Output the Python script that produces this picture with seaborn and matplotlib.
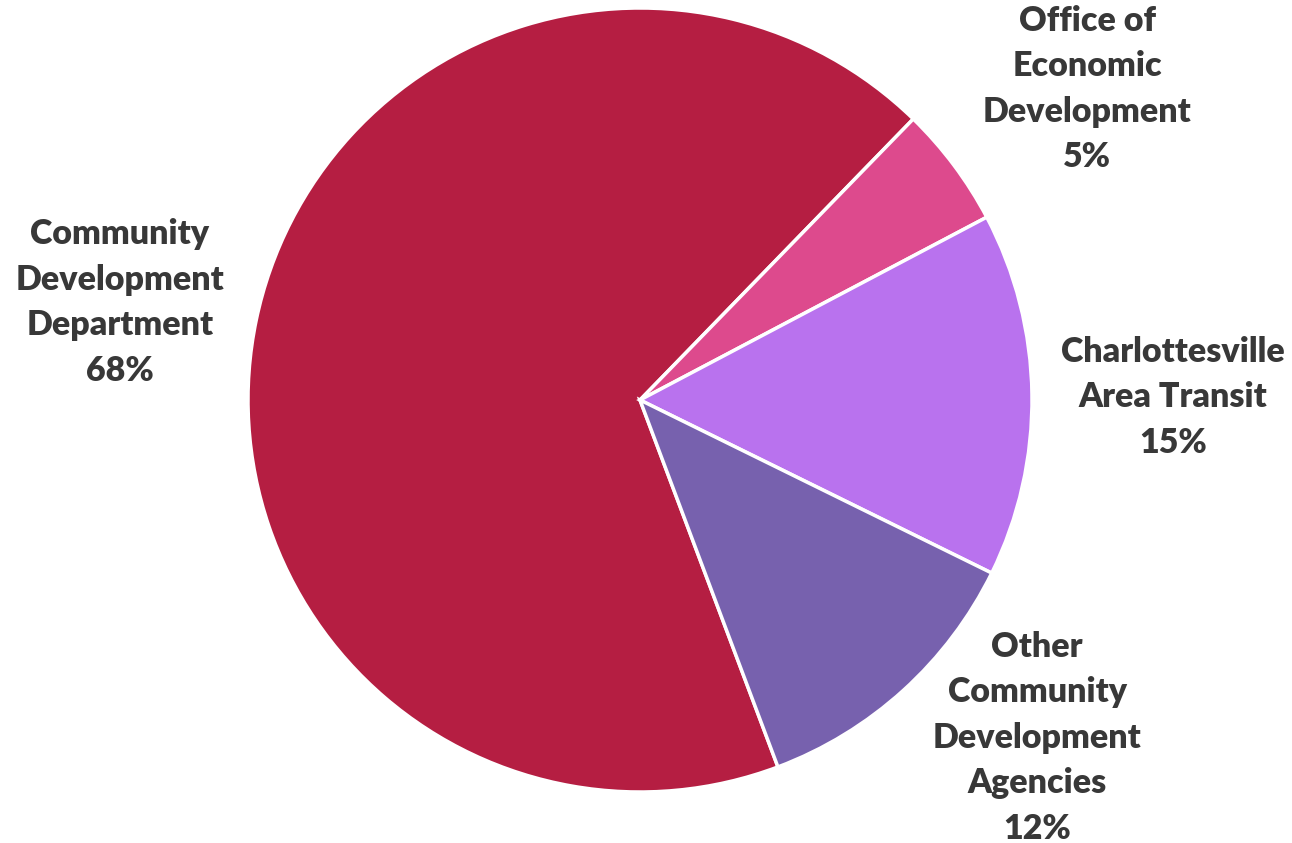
import numpy as np
import matplotlib
matplotlib.use("Agg")
import matplotlib.pyplot as plt
import seaborn as sns

# Budget share by department
departments = [
    "Community\nDevelopment\nDepartment",
    "Office of\nEconomic\nDevelopment",
    "Charlottesville\nArea Transit",
    "Other\nCommunity\nDevelopment\nAgencies",
]
shares = [68, 5, 15, 12]
colors = ["#B51E42", "#DD4A8D", "#B972EE", "#7761AE"]

sns.set_theme(style="white")
plt.rcParams["font.family"] = ["Lato", "DejaVu Sans"]

fig = plt.figure(figsize=(12.92, 8.43), dpi=100)
ax = fig.add_axes([0, 0, 1, 1])

wedges, _ = ax.pie(
    shares,
    colors=colors,
    startangle=290.6,
    counterclock=False,
    radius=1.0,
    wedgeprops=dict(edgecolor="white", linewidth=2.5),
)

# label placement: (distance from centre, angular nudge in degrees)
label_layout = [(1.35, 1.2), (1.39, -2.0), (1.36, -0.5), (1.33, 7.4)]

for w, name, pct, (dist, nudge) in zip(wedges, departments, shares, label_layout):
    mid = np.deg2rad((w.theta1 + w.theta2) / 2 + nudge)
    ax.text(
        dist * np.cos(mid), dist * np.sin(mid),
        f"{name}\n{pct}%",
        ha="center", va="center",
        fontsize=24.5, fontweight="heavy", color="#383838",
        linespacing=1.52,
    )

ax.set_xlim(-640 / 392, (1292 - 640) / 392)
ax.set_ylim(-443 / 392, 400 / 392)
ax.set_aspect("equal")
ax.axis("off")

fig.savefig("out.png", dpi=100, facecolor="white")
